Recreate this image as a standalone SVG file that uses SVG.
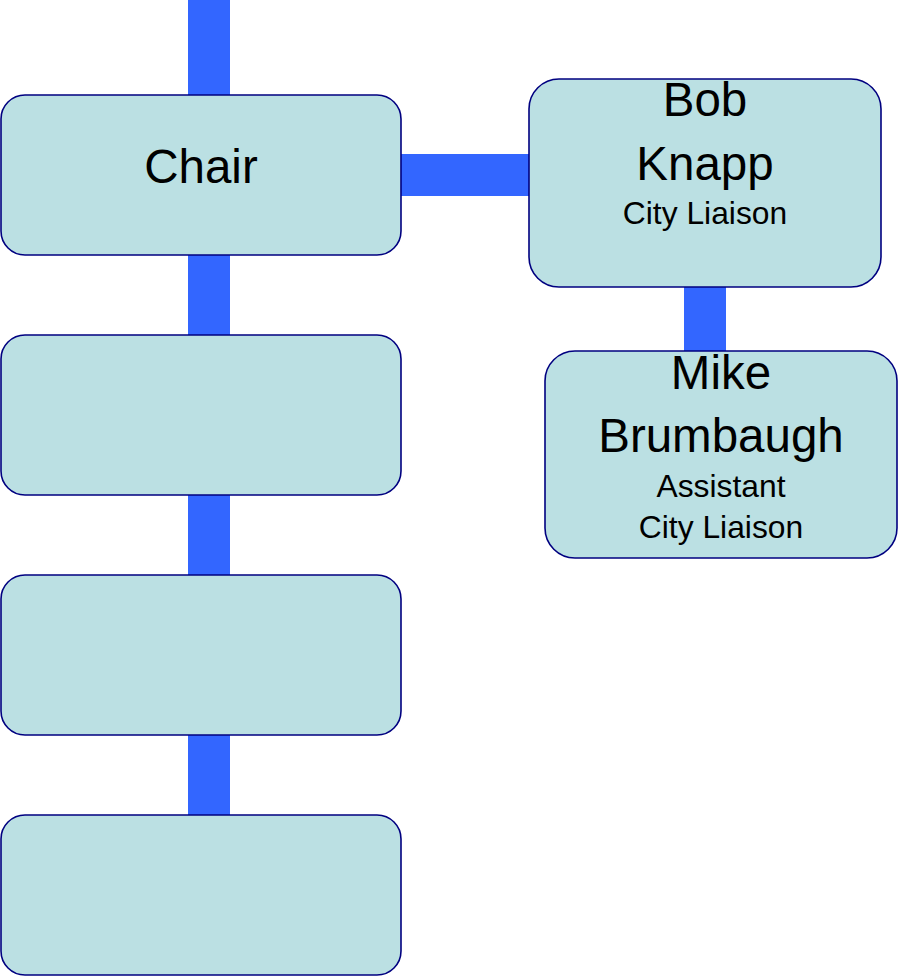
<svg xmlns="http://www.w3.org/2000/svg" width="899" height="976" viewBox="0 0 899 976">
<style>
.box{fill:#BBE0E3;stroke:#000080;stroke-width:1.6}
.con{fill:#3366FF}
text{font-family:"Liberation Sans",Arial,sans-serif;fill:#000;text-anchor:middle}
.big{font-size:47.5px}
.small{font-size:31.8px}
</style>
<rect width="899" height="976" fill="#fff"/>
<g id="connectors">
<rect class="con" x="188" y="0" width="42" height="96"/>
<rect class="con" x="188" y="254" width="42" height="82"/>
<rect class="con" x="188" y="494" width="42" height="82"/>
<rect class="con" x="188" y="734" width="42" height="82"/>
<rect class="con" x="400" y="154" width="130" height="42"/>
<rect class="con" x="684" y="286" width="42" height="66"/>
</g>
<g id="chair">
<rect class="box" x="1" y="95" width="400" height="160" rx="24"/>
<text class="big" x="201" y="183">Chair</text>
</g>
<g id="box2"><rect class="box" x="1" y="335" width="400" height="160" rx="24"/></g>
<g id="box3"><rect class="box" x="1" y="575" width="400" height="160" rx="24"/></g>
<g id="box4"><rect class="box" x="1" y="815" width="400" height="160" rx="24"/></g>
<g id="bob">
<rect class="box" x="529" y="79" width="352" height="208" rx="30"/>
<text class="big" x="705" y="116">Bob</text>
<text class="big" x="705" y="180">Knapp</text>
<text class="small" x="705" y="224">City Liaison</text>
</g>
<g id="mike">
<rect class="box" x="545" y="351" width="352" height="207" rx="30"/>
<text class="big" x="721" y="389">Mike</text>
<text class="big" x="721" y="452">Brumbaugh</text>
<text class="small" x="721" y="497">Assistant</text>
<text class="small" x="721" y="538">City Liaison</text>
</g>
</svg>
